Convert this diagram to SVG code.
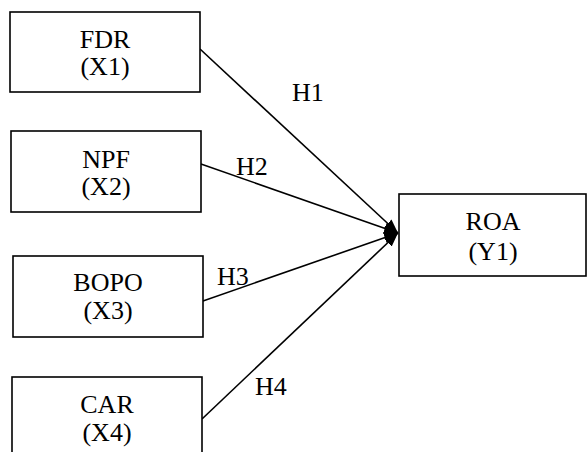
<svg xmlns="http://www.w3.org/2000/svg" width="587" height="452" viewBox="0 0 587 452">
  <style>
    .box { fill: #ffffff; stroke: #000000; stroke-width: 1.6; }
    .label { font-family: "Liberation Serif", "Times New Roman", serif; font-size: 26px; fill: #000000; text-anchor: middle; }
    .hyp { font-family: "Liberation Serif", "Times New Roman", serif; font-size: 26px; fill: #000000; }
    .edge { stroke: #000000; stroke-width: 1.6; fill: none; marker-end: url(#arrow); }
  </style>
  <defs>
    <marker id="arrow" viewBox="0 0 14 11" refX="14" refY="5.5" markerWidth="14" markerHeight="11" markerUnits="userSpaceOnUse" orient="auto">
      <path d="M0,0 L14,5.5 L0,11 Z" fill="#000000"/>
    </marker>
  </defs>

  <rect width="587" height="452" fill="#ffffff"/>

  <g id="connectors">
    <line class="edge" x1="200" y1="49" x2="398" y2="233"/>
    <line class="edge" x1="201" y1="164" x2="398" y2="233"/>
    <line class="edge" x1="203" y1="301" x2="398" y2="233"/>
    <line class="edge" x1="202" y1="419" x2="398" y2="233"/>
    <text class="hyp" x="292" y="101">H1</text>
    <text class="hyp" x="236" y="175">H2</text>
    <text class="hyp" x="217" y="285">H3</text>
    <text class="hyp" x="255" y="395">H4</text>
  </g>

  <g id="node-fdr">
    <rect class="box" x="10" y="12" width="190" height="80"/>
    <text class="label" x="105" y="48">FDR</text>
    <text class="label" x="105" y="75">(X1)</text>
  </g>

  <g id="node-npf">
    <rect class="box" x="11" y="131" width="190" height="81"/>
    <text class="label" x="106" y="168">NPF</text>
    <text class="label" x="106" y="195">(X2)</text>
  </g>

  <g id="node-bopo">
    <rect class="box" x="13" y="256" width="190" height="81"/>
    <text class="label" x="108" y="291">BOPO</text>
    <text class="label" x="108" y="319">(X3)</text>
  </g>

  <g id="node-car">
    <rect class="box" x="12" y="377" width="190" height="90"/>
    <text class="label" x="107" y="413">CAR</text>
    <text class="label" x="107" y="441">(X4)</text>
  </g>

  <g id="node-roa">
    <rect class="box" x="399" y="194" width="187" height="82"/>
    <text class="label" x="493" y="230">ROA</text>
    <text class="label" x="493" y="260">(Y1)</text>
  </g>
</svg>
